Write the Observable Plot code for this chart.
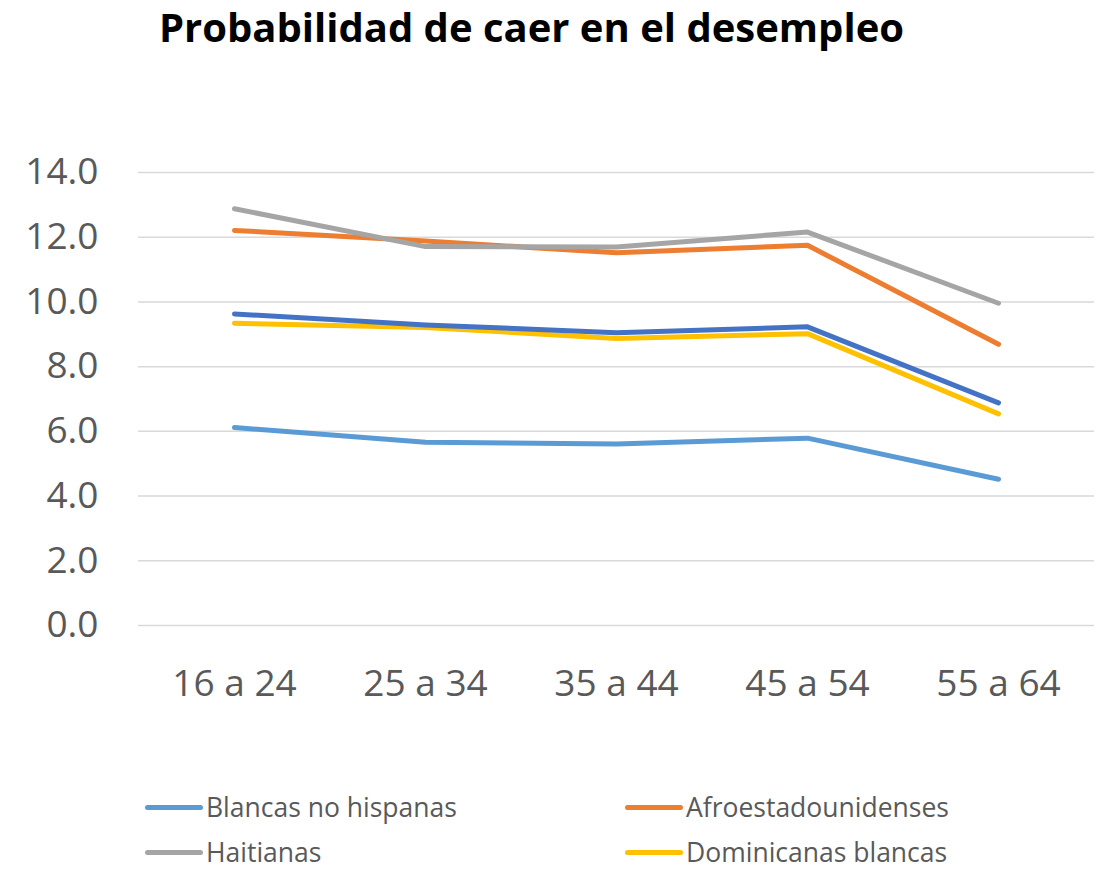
<!DOCTYPE html>
<html>
<head>
<meta charset="utf-8">
<script src="https://cdn.jsdelivr.net/npm/d3@7"></script>
<script src="https://cdn.jsdelivr.net/npm/@observablehq/plot@0.6"></script>
<style>
  html, body { margin: 0; padding: 0; background: #fff; }
  #wrap { position: relative; width: 1104px; height: 872px; overflow: hidden; font-family: "Open Sans", sans-serif; }
  #title { position: absolute; left: 0; width: 1063px; top: 1px; text-align: center; font-weight: 700; font-size: 40px; color: #000; line-height: 52px; }
  #chart { position: absolute; left: 0; top: 0; }
  .leg { position: absolute; display: flex; align-items: center; font-size: 26.5px; color: #595959; white-space: nowrap; height: 28px; line-height: 28px; }
  .leg .sw { width: 58px; height: 5px; border-radius: 3px; margin-right: 3px; }
</style>
</head>
<body>
<div id="wrap">
  <div id="chart"></div>
  <div id="title">Probabilidad de caer en el desempleo</div>
  <div id="legend"></div>
</div>
<script>
const categories = ["16 a 24", "25 a 34", "35 a 44", "45 a 54", "55 a 64"];
const seriesNames = ["Blancas no hispanas", "Afroestadounidenses", "Haitianas", "Dominicanas blancas", "Serie 5"];
const seriesColors = ["#5B9BD5", "#ED7D31", "#A5A5A5", "#FFC000", "#4472C4"];
const blancasNoHispanas = [6.12, 5.66, 5.61, 5.79, 4.52];
const afroestadounidenses = [12.21, 11.88, 11.52, 11.75, 8.69];
const haitianas = [12.88, 11.71, 11.70, 12.16, 9.96];
const dominicanasBlancas = [9.34, 9.21, 8.87, 9.02, 6.54];
const serie5 = [9.63, 9.29, 9.05, 9.23, 6.88];
const yTicks = [0, 2, 4, 6, 8, 10, 12, 14];
const legendNames = ["Blancas no hispanas", "Afroestadounidenses", "Haitianas", "Dominicanas blancas"];

const allSeries = [blancasNoHispanas, afroestadounidenses, haitianas, dominicanasBlancas, serie5];
const rows = [];
allSeries.forEach((vals, si) => {
  vals.forEach((v, i) => rows.push({ serie: seriesNames[si], cat: categories[i], value: v }));
});

const chart = Plot.plot({
  width: 1104,
  height: 872,
  marginTop: 172,
  marginBottom: 247,
  marginLeft: 138,
  marginRight: 10,
  style: { fontFamily: "Open Sans, sans-serif", color: "#595959", background: "transparent", overflow: "visible" },
  x: { type: "point", domain: categories, padding: 0.5 },
  y: { domain: [0, 14] },
  color: { domain: seriesNames, range: seriesColors },
  marks: [
    Plot.gridY(yTicks, { stroke: "#D9D9D9", strokeOpacity: 1, strokeWidth: 1.5 }),
    Plot.axisY(yTicks, { tickSize: 0, tickPadding: 40, tickFormat: d => d.toFixed(1), fontSize: 37, fill: "#595959", label: null }),
    Plot.axisX({ tickSize: 0, tickPadding: 44, fontSize: 37, fill: "#595959", label: null }),
    Plot.line(rows, { x: "cat", y: "value", z: "serie", stroke: "serie", strokeWidth: 5, strokeLinecap: "round", strokeLinejoin: "round" })
  ]
});
document.getElementById("chart").appendChild(chart);

const legendPos = [
  { left: 145, top: 807 }, { left: 625, top: 807 },
  { left: 145, top: 852 }, { left: 625, top: 852 }
];
const legend = document.getElementById("legend");
legendNames.forEach((name, i) => {
  const d = document.createElement("div");
  d.className = "leg";
  d.style.left = legendPos[i].left + "px";
  d.style.top = (legendPos[i].top - 14) + "px";
  const sw = document.createElement("div");
  sw.className = "sw";
  sw.style.background = seriesColors[seriesNames.indexOf(name)];
  const t = document.createElement("span");
  t.textContent = name;
  d.appendChild(sw);
  d.appendChild(t);
  legend.appendChild(d);
});
</script>
</body>
</html>
